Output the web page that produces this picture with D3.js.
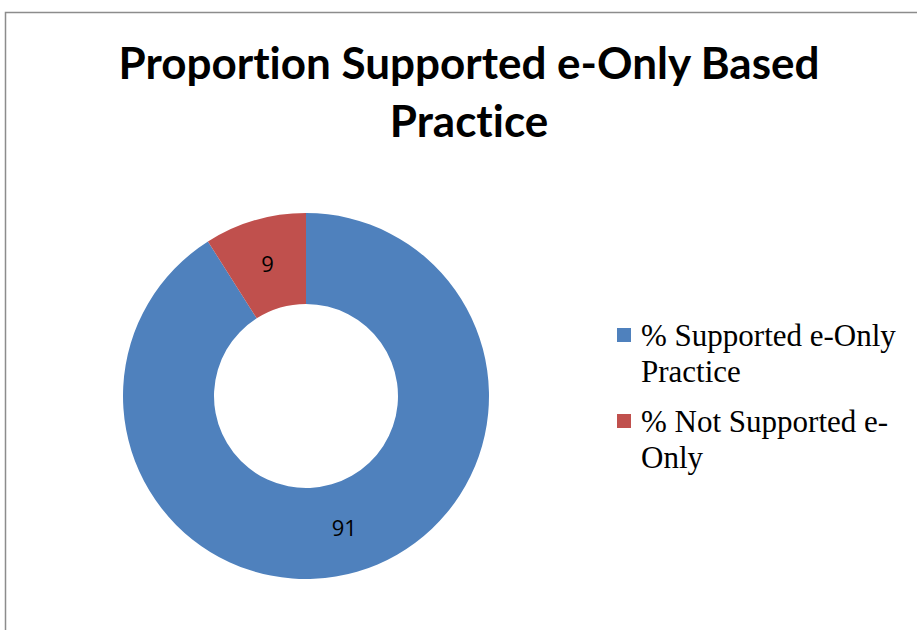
<!DOCTYPE html>
<html>
<head>
<meta charset="utf-8">
<script src="https://cdn.jsdelivr.net/npm/d3@7"></script>
<style>
  body { margin: 0; background: #fff; }
  svg { display: block; }
</style>
</head>
<body>
<svg width="917" height="630"></svg>
<script>
const categories = ["% Supported e-Only Practice", "% Not Supported e-Only"];
const values = [91, 9];
const legendLines = [["% Supported e-Only", "Practice"], ["% Not Supported e-", "Only"]];
const titleLines = ["Proportion Supported e-Only Based", "Practice"];

const svg = d3.select("svg");

// chart frame (runs off the right/bottom edges)
svg.append("rect")
  .attr("x", 5.5).attr("y", 12.5)
  .attr("width", 940).attr("height", 640)
  .attr("fill", "#fff")
  .attr("stroke", "#8c8c8c")
  .attr("stroke-width", 1.5);

svg.append("g").selectAll("text")
  .data(titleLines)
  .join("text")
  .attr("x", 469)
  .attr("y", (d, i) => 79 + i * 58)
  .attr("text-anchor", "middle")
  .style("font-family", "Lato, 'Open Sans', sans-serif")
  .style("font-weight", "bold")
  .style("font-size", "44px")
  .style("font-variant-ligatures", "none")
  .text(d => d);

const color = d3.scaleOrdinal().domain(categories).range(["#4f81bd", "#c0504d"]);

const cx = 306, cy = 396;
const outer = 183, inner = 92;

const pie = d3.pie().sort(null).value(d => d.value);
const arc = d3.arc().innerRadius(inner).outerRadius(outer);
const arcs = pie(categories.map((c, i) => ({name: c, value: values[i]})));

const g = svg.append("g").attr("transform", `translate(${cx},${cy})`);
g.selectAll("path")
  .data(arcs)
  .join("path")
  .attr("d", arc)
  .attr("fill", d => color(d.data.name));

g.selectAll("text")
  .data(arcs)
  .join("text")
  .attr("transform", d => `translate(${arc.centroid(d)})`)
  .attr("text-anchor", "middle")
  .attr("dy", "0.35em")
  .style("font-family", "'Open Sans', sans-serif")
  .style("font-size", "22px")
  .attr("fill", "#000")
  .text(d => d.data.value);

const legend = svg.append("g").attr("transform", "translate(617,328)");
categories.forEach((c, i) => {
  const row = legend.append("g").attr("transform", `translate(0,${i * 86})`);
  row.append("rect")
    .attr("width", 14).attr("height", 14)
    .attr("fill", color(c));
  row.selectAll("text")
    .data(legendLines[i])
    .join("text")
    .attr("x", 24)
    .attr("y", (d, j) => 18 + j * 36)
    .style("font-family", "'Liberation Serif', 'Times New Roman', serif")
    .style("font-size", "31px")
    .text(d => d);
});
</script>
</body>
</html>
